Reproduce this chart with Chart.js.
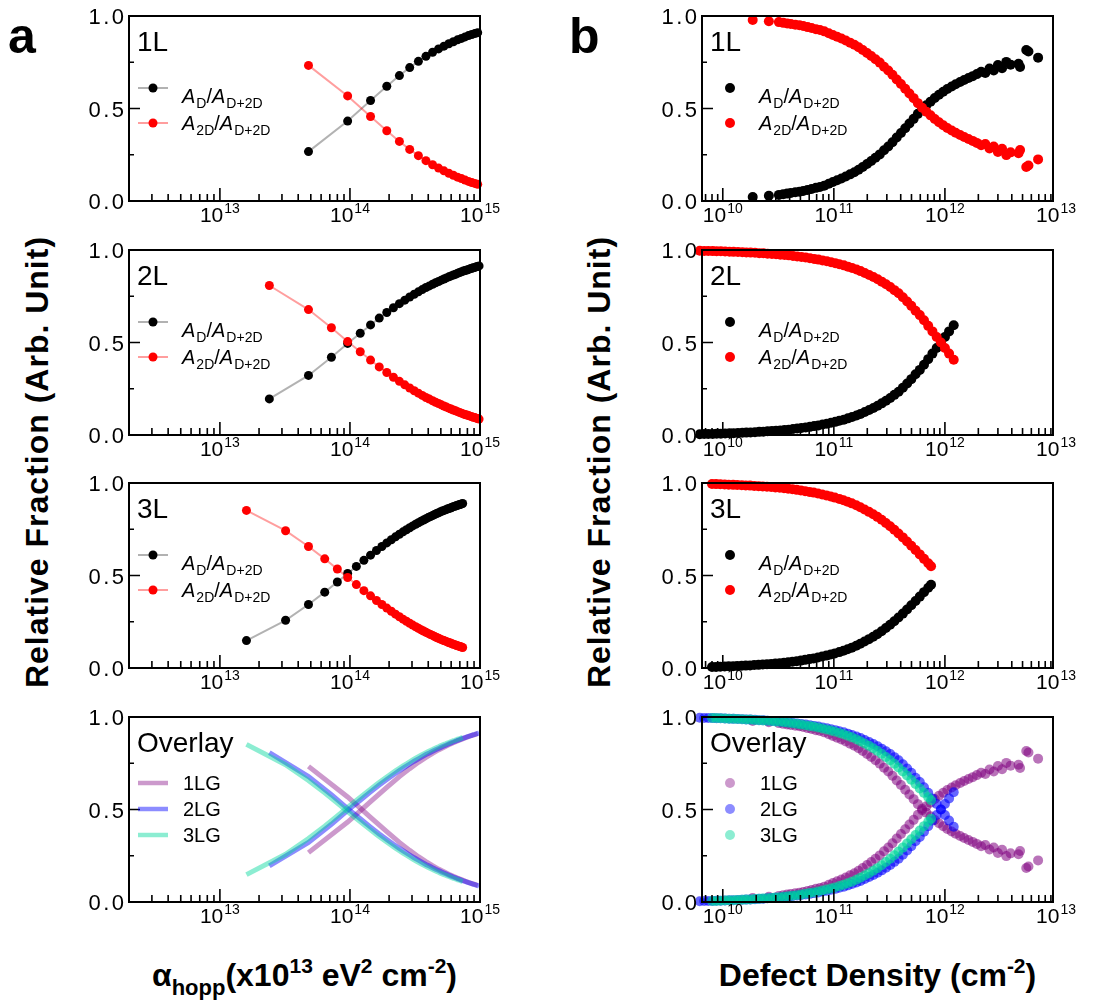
<!DOCTYPE html>
<html>
<head>
<meta charset="utf-8">
<title>Relative fraction vs hopping parameter and defect density</title>
<script src="https://cdn.jsdelivr.net/npm/chart.js@4.4.1/dist/chart.umd.min.js"></script>
<style>
  html, body { margin: 0; padding: 0; background: #fff; }
  body { position: relative; width: 1119px; height: 1005px; overflow: hidden;
         font-family: "Liberation Sans", Arial, Helvetica, sans-serif; color: #000; }
  canvas { position: absolute; }
  .letter { position: absolute; font-weight: bold; font-size: 50px; line-height: 50px; }
  .ytitle { position: absolute; width: 600px; height: 40px; line-height: 40px; text-align: center;
            font-weight: bold; font-size: 32px; letter-spacing: 1px; transform: rotate(-90deg); white-space: nowrap; }
  .xtitle { position: absolute; width: 451px; height: 40px; line-height: 40px; text-align: center;
            font-weight: bold; font-size: 32px; white-space: nowrap; }
  .xtitle sup { font-size: 21px; vertical-align: baseline; position: relative; top: -13px; }
  .xtitle sub { font-size: 22px; vertical-align: baseline; position: relative; top: 9px; }
</style>
</head>
<body>
<div class="letter" style="left:8px;top:11px">a</div>
<div class="letter" style="left:569px;top:11px">b</div>
<div class="ytitle" style="left:-263px;top:442px">Relative Fraction (Arb. Unit)</div>
<div class="ytitle" style="left:299px;top:442px">Relative Fraction (Arb. Unit)</div>
<div class="xtitle" style="left:79px;top:955px">α<sub>hopp</sub>(x10<sup>13</sup> eV<sup>2</sup> cm<sup>-2</sup>)</div>
<div class="xtitle" style="left:652px;top:955px">Defect Density (cm<sup>-2</sup>)</div>

<script>
// ---- panel a : fraction vs alpha_hopp (x values in units of 1e13) ----
const alphaHopp1L = [4.8, 9.6, 14.4, 19.2, 24, 28.8, 33.6, 38.4, 43.2, 48, 52.8, 57.6, 62.4, 67.2, 72, 76.8, 81.6, 86.4, 91.2, 96];
const aD1L  = [0.267, 0.432, 0.543, 0.62, 0.678, 0.721, 0.755, 0.782, 0.804, 0.822, 0.837, 0.85, 0.861, 0.871, 0.879, 0.887, 0.894, 0.9, 0.905, 0.91];
const a2D1L = [0.733, 0.568, 0.457, 0.38, 0.322, 0.279, 0.245, 0.218, 0.196, 0.178, 0.163, 0.15, 0.139, 0.129, 0.121, 0.113, 0.106, 0.1, 0.095, 0.09];

const alphaHopp2L = [2.4, 4.8, 7.2, 9.6, 12, 14.4, 16.8, 19.2, 21.6, 24, 26.4, 28.8, 31.2, 33.6, 36, 38.4, 40.8, 43.2, 45.6, 48,
  50.4, 52.8, 55.2, 57.6, 60, 62.4, 64.8, 67.2, 69.6, 72, 74.4, 76.8, 79.2, 81.6, 84, 86.4, 88.8, 91.2, 93.6, 96, 98.4];
const aD2L  = [0.195, 0.322, 0.42, 0.495, 0.55, 0.595, 0.632, 0.662, 0.688, 0.71, 0.729, 0.746, 0.761, 0.774, 0.786, 0.797, 0.806, 0.815, 0.823, 0.83,
  0.837, 0.843, 0.849, 0.855, 0.86, 0.865, 0.869, 0.874, 0.878, 0.882, 0.886, 0.889, 0.892, 0.895, 0.898, 0.901, 0.904, 0.906, 0.909, 0.911, 0.914];
const a2D2L = [0.808, 0.678, 0.58, 0.505, 0.45, 0.405, 0.368, 0.338, 0.312, 0.29, 0.271, 0.254, 0.239, 0.226, 0.214, 0.203, 0.194, 0.185, 0.177, 0.17,
  0.163, 0.157, 0.151, 0.145, 0.14, 0.135, 0.131, 0.126, 0.122, 0.118, 0.114, 0.111, 0.108, 0.105, 0.102, 0.099, 0.096, 0.094, 0.091, 0.089, 0.086];

const alphaHopp3L = [1.6, 3.2, 4.8, 6.4, 8, 9.6, 11.2, 12.8, 14.4, 16, 17.6, 19.2, 20.8, 22.4, 24, 25.6, 27.2, 28.8, 30.4, 32,
  33.6, 35.2, 36.8, 38.4, 40, 41.6, 43.2, 44.8, 46.4, 48, 49.6, 51.2, 52.8, 54.4, 56, 57.6, 59.2, 60.8, 62.4, 64, 65.6, 67.2, 68.8, 70.4, 72, 73.6];
const aD3L  = [0.148, 0.258, 0.343, 0.41, 0.465, 0.511, 0.549, 0.582, 0.61, 0.635, 0.657, 0.676, 0.693, 0.709, 0.723, 0.736, 0.747, 0.758, 0.768, 0.777,
  0.785, 0.793, 0.8, 0.807, 0.813, 0.819, 0.824, 0.83, 0.835, 0.839, 0.844, 0.848, 0.852, 0.855, 0.859, 0.862, 0.865, 0.869, 0.872, 0.874,
  0.877, 0.88, 0.882, 0.884, 0.887, 0.889];
const a2D3L = [0.852, 0.742, 0.657, 0.59, 0.535, 0.489, 0.451, 0.418, 0.39, 0.365, 0.343, 0.324, 0.307, 0.291, 0.277, 0.264, 0.253, 0.242, 0.232, 0.223,
  0.215, 0.207, 0.2, 0.193, 0.187, 0.181, 0.176, 0.17, 0.165, 0.161, 0.156, 0.152, 0.148, 0.145, 0.141, 0.138, 0.135, 0.131, 0.128, 0.126,
  0.123, 0.12, 0.118, 0.116, 0.113, 0.111];

// ---- panel b : fraction vs defect density (x values in units of 1e10 cm^-2) ----
const density1L = [1.86, 2.6, 3.2, 3.5, 3.8, 4.1, 4.5, 4.9, 5.3, 5.8, 6.3, 6.9, 7.5, 8.2, 9.0, 9.8, 10.7, 11.7, 12.8, 14.0,
  15.3, 16.7, 18.2, 19.9, 21.7, 23.7, 25.9, 28.3, 30.9, 33.7, 36.8, 40.2, 43.9, 47.9, 52.3, 57.1, 62.3, 68.0, 74.2, 81.0,
  88.4, 96.5, 105, 115, 125, 137, 149, 163, 178, 194, 212, 231, 252, 275, 300, 327, 357, 390, 460, 475, 540, 565, 690];
const dD1L  = [0.022, 0.028, 0.033, 0.037, 0.040, 0.043, 0.047, 0.050, 0.054, 0.060, 0.065, 0.071, 0.076, 0.083, 0.093, 0.103, 0.112, 0.122, 0.132, 0.144,
  0.155, 0.169, 0.184, 0.200, 0.216, 0.234, 0.252, 0.274, 0.295, 0.318, 0.343, 0.368, 0.393, 0.419, 0.444, 0.471, 0.496, 0.517, 0.537, 0.557,
  0.574, 0.591, 0.605, 0.619, 0.631, 0.643, 0.654, 0.665, 0.675, 0.686, 0.699, 0.692, 0.716, 0.705, 0.735, 0.718, 0.752, 0.737, 0.742, 0.724,
  0.816, 0.808, 0.775];
const d2D1L = [0.978, 0.972, 0.967, 0.963, 0.960, 0.957, 0.953, 0.950, 0.946, 0.940, 0.935, 0.929, 0.924, 0.917, 0.907, 0.897, 0.888, 0.878, 0.868, 0.856,
  0.845, 0.831, 0.816, 0.800, 0.784, 0.766, 0.748, 0.726, 0.705, 0.682, 0.657, 0.632, 0.607, 0.581, 0.556, 0.529, 0.504, 0.483, 0.463, 0.443,
  0.426, 0.409, 0.395, 0.381, 0.369, 0.357, 0.346, 0.335, 0.325, 0.314, 0.301, 0.308, 0.284, 0.295, 0.265, 0.282, 0.248, 0.263, 0.258, 0.276,
  0.184, 0.192, 0.225];

const density2L = [0.62, 0.68, 0.74, 0.81, 0.88, 0.96, 1.05, 1.15, 1.25, 1.37, 1.5, 1.63, 1.78, 1.95, 2.13, 2.32, 2.53, 2.77, 3.02, 3.3,
  3.6, 3.93, 4.29, 4.68, 5.11, 5.58, 6.09, 6.65, 7.26, 7.92, 8.65, 9.44, 10.3, 11.2, 12.3, 13.4, 14.6, 16.0, 17.4, 19.0,
  20.8, 22.7, 24.8, 27.0, 29.5, 32.2, 35.1, 38.3, 41.8, 45.7, 49.8, 54.4, 59.4, 64.8, 70.7, 77.2, 84.3, 92.0, 100, 109, 120];
const dD2L  = [0.004, 0.005, 0.005, 0.006, 0.007, 0.007, 0.008, 0.009, 0.010, 0.011, 0.012, 0.013, 0.014, 0.015, 0.017, 0.018, 0.020, 0.021, 0.023, 0.025,
  0.027, 0.029, 0.032, 0.035, 0.038, 0.041, 0.044, 0.048, 0.052, 0.057, 0.061, 0.066, 0.071, 0.077, 0.083, 0.090, 0.097, 0.105, 0.114, 0.124,
  0.135, 0.146, 0.158, 0.171, 0.185, 0.200, 0.217, 0.234, 0.255, 0.278, 0.302, 0.328, 0.352, 0.380, 0.410, 0.440, 0.470, 0.500, 0.530, 0.560, 0.593];
const d2D2L = [0.996, 0.995, 0.995, 0.994, 0.993, 0.993, 0.992, 0.991, 0.990, 0.989, 0.988, 0.987, 0.986, 0.985, 0.983, 0.982, 0.980, 0.979, 0.977, 0.975,
  0.973, 0.971, 0.968, 0.965, 0.962, 0.959, 0.956, 0.952, 0.948, 0.943, 0.939, 0.934, 0.929, 0.923, 0.917, 0.910, 0.903, 0.895, 0.886, 0.876,
  0.865, 0.854, 0.842, 0.829, 0.815, 0.800, 0.783, 0.766, 0.745, 0.722, 0.698, 0.672, 0.648, 0.620, 0.590, 0.560, 0.530, 0.500, 0.470, 0.440, 0.407];

const density3L = [0.8, 0.87, 0.95, 1.04, 1.13, 1.24, 1.35, 1.48, 1.61, 1.76, 1.92, 2.1, 2.29, 2.5, 2.73, 2.98, 3.26, 3.56, 3.88, 4.24,
  4.63, 5.05, 5.52, 6.03, 6.58, 7.19, 7.85, 8.57, 9.36, 10.2, 11.2, 12.2, 13.3, 14.5, 15.9, 17.3, 18.9, 20.7, 22.6, 24.6,
  26.9, 29.4, 32.1, 35.0, 38.2, 41.8, 45.6, 49.8, 54.4, 59.4, 64.8, 70.8, 75];
const dD3L  = [0.005, 0.006, 0.007, 0.008, 0.009, 0.010, 0.011, 0.012, 0.013, 0.014, 0.016, 0.017, 0.019, 0.020, 0.022, 0.024, 0.026, 0.028, 0.031, 0.034,
  0.037, 0.040, 0.044, 0.048, 0.052, 0.057, 0.062, 0.067, 0.073, 0.079, 0.086, 0.093, 0.101, 0.110, 0.120, 0.131, 0.143, 0.156, 0.169, 0.183,
  0.199, 0.216, 0.234, 0.253, 0.273, 0.294, 0.316, 0.339, 0.362, 0.386, 0.410, 0.434, 0.450];
const d2D3L = [0.995, 0.994, 0.993, 0.992, 0.991, 0.990, 0.989, 0.988, 0.987, 0.986, 0.984, 0.983, 0.981, 0.980, 0.978, 0.976, 0.974, 0.972, 0.969, 0.966,
  0.963, 0.960, 0.956, 0.952, 0.948, 0.943, 0.938, 0.933, 0.927, 0.921, 0.914, 0.907, 0.899, 0.890, 0.880, 0.869, 0.857, 0.844, 0.831, 0.817,
  0.801, 0.784, 0.766, 0.747, 0.727, 0.706, 0.684, 0.661, 0.638, 0.614, 0.590, 0.566, 0.550];

const layerNames = ['1LG', '2LG', '3LG'];
const overlayColors = ['rgba(128,0,128,0.4)', 'rgba(0,0,255,0.45)', 'rgba(0,215,155,0.45)'];
const overlayDotColors = ['rgba(128,0,128,0.55)', 'rgba(0,0,255,0.6)', 'rgba(0,215,155,0.65)'];

// ---- layout ----
const FONT = '"Liberation Sans", Arial, Helvetica, sans-serif';
const FRAME_W = 351, FRAME_H = 185;
const COL_LEFT = { a: 129, b: 702 };
const ROW_TOP = [16, 250, 483, 717];
const PAD = { left: 72, right: 38, top: 14, bottom: 42 };
const HOPP_RANGE = [2e12, 1e15];
const DENS_RANGE = [6.5e9, 9.4e12];
const Y_MAJOR = [0, 0.5, 1];
const Y_MINOR = [0.25, 0.75];

const LBL_D  = [{ t: 'A', it: true }, { t: 'D', sub: true }, { t: '/' }, { t: 'A', it: true }, { t: 'D+2D', sub: true }];
const LBL_2D = [{ t: 'A', it: true }, { t: '2D', sub: true }, { t: '/' }, { t: 'A', it: true }, { t: 'D+2D', sub: true }];

function drawRich(ctx, parts, x, y) {
  parts.forEach(p => {
    ctx.font = (p.it ? 'italic ' : '') + (p.sub ? 14 : 20) + 'px ' + FONT;
    ctx.fillText(p.t, x, y + (p.sub ? 5 : 0));
    x += ctx.measureText(p.t).width + (p.it ? 1 : 0);
  });
}

function drawPow10(ctx, x, y, exp) {
  ctx.font = '21px ' + FONT;
  const wb = ctx.measureText('10').width;
  ctx.font = '14px ' + FONT;
  const ws = ctx.measureText(String(exp)).width;
  const x0 = x - (wb + ws + 1) / 2;
  ctx.font = '21px ' + FONT;
  ctx.fillText('10', x0, y);
  ctx.font = '14px ' + FONT;
  ctx.fillText(String(exp), x0 + wb + 1, y - 9);
}

function dot(ctx, x, y, r, color) {
  ctx.fillStyle = color;
  ctx.beginPath();
  ctx.arc(x, y, r, 0, Math.PI * 2);
  ctx.fill();
}

// frame, inward ticks, tick labels, panel tag and legend
function panelDeco(deco) {
  return {
    id: 'panelDeco',
    afterDatasetsDraw(chart) {
      const ctx = chart.ctx, a = chart.chartArea;
      const xs = chart.scales.x, ys = chart.scales.y;
      ctx.save();
      ctx.strokeStyle = '#000';
      ctx.lineWidth = 1.6;
      ctx.beginPath();
      const e0 = Math.floor(Math.log10(xs.min)), e1 = Math.ceil(Math.log10(xs.max));
      for (let e = e0; e <= e1; e++) {
        for (let m = 1; m <= 9; m++) {
          const v = m * Math.pow(10, e);
          if (v < xs.min * 0.999 || v > xs.max * 1.001) continue;
          const px = xs.getPixelForValue(v);
          ctx.moveTo(px, a.bottom);
          ctx.lineTo(px, a.bottom - (m === 1 ? 13 : 7));
        }
      }
      Y_MAJOR.concat(Y_MINOR).forEach(v => {
        const py = ys.getPixelForValue(v);
        ctx.moveTo(a.left, py);
        ctx.lineTo(a.left + (Y_MAJOR.includes(v) ? 11 : 5), py);
      });
      ctx.stroke();
      ctx.lineWidth = 2;
      ctx.strokeRect(a.left, a.top, a.right - a.left, a.bottom - a.top);

      ctx.fillStyle = '#000';
      ctx.textAlign = 'left';
      ctx.textBaseline = 'alphabetic';
      for (let e = e0; e <= e1; e++) {
        const v = Math.pow(10, e);
        if (v < xs.min * 0.999 || v > xs.max * 1.12) continue;
        drawPow10(ctx, xs.getPixelForValue(v), a.bottom + 21, e);
      }
      ctx.font = '22px ' + FONT;
      Y_MAJOR.forEach(v => {
        const txt = v.toFixed(1).split('');
        const gap = 2.5;
        const ws = txt.map(c => ctx.measureText(c).width);
        let x = a.left - 5 - ws.reduce((s, w) => s + w, 0) - gap * (ws.length - 1);
        const py = ys.getPixelForValue(v) + 8;
        txt.forEach((c, i) => { ctx.fillText(c, x, py); x += ws[i] + gap; });
      });

      ctx.font = '28px ' + FONT;
      ctx.fillText(deco.label, a.left + 8, a.top + 35);

      if (deco.legend === 'hopp' || deco.legend === 'density') {
        const withLine = deco.legend === 'hopp';
        const dx = withLine ? 24 : 28, tx = withLine ? 53 : 57;
        [[72, 87, '#000', 'rgba(0,0,0,0.3)', LBL_D], [107, 114, '#ff0000', 'rgba(255,0,0,0.38)', LBL_2D]].forEach(r => {
          if (withLine) {
            ctx.strokeStyle = r[3];
            ctx.lineWidth = 2;
            ctx.beginPath();
            ctx.moveTo(a.left + 9, a.top + r[0]);
            ctx.lineTo(a.left + 39, a.top + r[0]);
            ctx.stroke();
          }
          dot(ctx, a.left + dx, a.top + r[0], withLine ? 4.5 : 5, r[2]);
          ctx.fillStyle = '#000';
          drawRich(ctx, r[4], a.left + tx, a.top + r[1]);
        });
      } else if (deco.legend === 'overlayLine' || deco.legend === 'overlayDot') {
        [66, 92, 118].forEach((ry, i) => {
          if (deco.legend === 'overlayLine') {
            ctx.strokeStyle = overlayColors[i];
            ctx.lineWidth = 4.5;
            ctx.beginPath();
            ctx.moveTo(a.left + 9, a.top + ry);
            ctx.lineTo(a.left + 39, a.top + ry);
            ctx.stroke();
          } else {
            dot(ctx, a.left + 28, a.top + ry, 5, overlayColors[i]);
          }
          ctx.fillStyle = '#000';
          ctx.font = '20px ' + FONT;
          ctx.textBaseline = 'middle';
          ctx.fillText(layerNames[i], a.left + (deco.legend === 'overlayLine' ? 54 : 58), a.top + ry + 1);
          ctx.textBaseline = 'alphabetic';
        });
      }
      ctx.restore();
    }
  };
}

function makePanel(col, row, xRange, datasets, deco) {
  const canvas = document.createElement('canvas');
  canvas.width = FRAME_W + PAD.left + PAD.right;
  canvas.height = FRAME_H + PAD.top + PAD.bottom;
  canvas.style.left = (COL_LEFT[col] - PAD.left) + 'px';
  canvas.style.top = (ROW_TOP[row] - PAD.top) + 'px';
  document.body.appendChild(canvas);
  return new Chart(canvas, {
    type: 'scatter',
    data: { datasets },
    options: {
      responsive: false,
      animation: false,
      events: [],
      layout: { padding: PAD },
      scales: {
        x: { type: 'logarithmic', min: xRange[0], max: xRange[1], display: false },
        y: { type: 'linear', min: 0, max: 1, display: false }
      },
      plugins: { legend: { display: false }, tooltip: { enabled: false } }
    },
    plugins: [panelDeco(deco)]
  });
}

const toPoints = (xs, ys, unit) => xs.map((v, i) => ({ x: v * unit, y: ys[i] }));

function hoppDatasets(xs, fracD, frac2D) {
  const base = { showLine: true, borderWidth: 2, pointRadius: 4.5, pointBorderWidth: 0, clip: 6 };
  return [
    { ...base, data: toPoints(xs, frac2D, 1e13), borderColor: 'rgba(255,0,0,0.38)', pointBackgroundColor: '#ff0000' },
    { ...base, data: toPoints(xs, fracD, 1e13), borderColor: 'rgba(0,0,0,0.3)', pointBackgroundColor: '#000' }
  ];
}

function densityDatasets(xs, fracD, frac2D) {
  const base = { pointRadius: 5, pointBorderWidth: 0, clip: 6 };
  return [
    { ...base, data: toPoints(xs, frac2D, 1e10), pointBackgroundColor: '#ff0000' },
    { ...base, data: toPoints(xs, fracD, 1e10), pointBackgroundColor: '#000' }
  ];
}

const hoppLayers = [[alphaHopp1L, aD1L, a2D1L], [alphaHopp2L, aD2L, a2D2L], [alphaHopp3L, aD3L, a2D3L]];
const densLayers = [[density1L, dD1L, d2D1L], [density2L, dD2L, d2D2L], [density3L, dD3L, d2D3L]];

hoppLayers.forEach((l, i) => makePanel('a', i, HOPP_RANGE, hoppDatasets(l[0], l[1], l[2]), { label: (i + 1) + 'L', legend: 'hopp' }));
densLayers.forEach((l, i) => makePanel('b', i, DENS_RANGE, densityDatasets(l[0], l[1], l[2]), { label: (i + 1) + 'L', legend: 'density' }));

// overlays: 3LG on top, then 2LG, then 1LG
const overlayHopp = [];
hoppLayers.forEach((l, i) => {
  [l[1], l[2]].forEach(ys => overlayHopp.push({
    data: toPoints(l[0], ys, 1e13), showLine: true, pointRadius: 0, borderWidth: 5,
    borderColor: overlayColors[i], order: 2 - i, clip: 6
  }));
});
makePanel('a', 3, HOPP_RANGE, overlayHopp, { label: 'Overlay', legend: 'overlayLine' });

const overlayDens = [];
densLayers.forEach((l, i) => {
  [l[1], l[2]].forEach(ys => overlayDens.push({
    data: toPoints(l[0], ys, 1e10), pointRadius: 5, pointBorderWidth: 0,
    pointBackgroundColor: overlayDotColors[i], order: 2 - i, clip: 6
  }));
});
makePanel('b', 3, DENS_RANGE, overlayDens, { label: 'Overlay', legend: 'overlayDot' });
</script>
</body>
</html>
